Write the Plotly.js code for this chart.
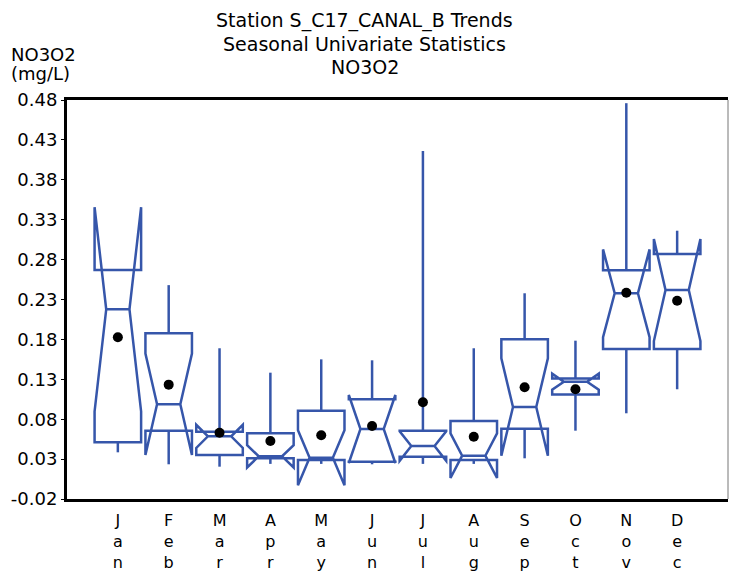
<!DOCTYPE html>
<html>
<head>
<meta charset="utf-8">
<script src="https://cdn.plot.ly/plotly-3.0.1.min.js"></script>
<style>html,body{margin:0;padding:0;background:#fff;}#chart{width:729px;height:573px;}</style>
</head>
<body>
<div id="chart"></div>
<script>
// Monthly notched-box statistics, NO3O2 (mg/L)
var months = ['Jan','Feb','Mar','Apr','May','Jun','Jul','Aug','Sep','Oct','Nov','Dec'];
var q1Vals = [0.051, 0.0656, 0.035, 0.031, 0.029, 0.0268, 0.033, 0.029, 0.0681, 0.111, 0.168, 0.168];
var medianVals = [0.2177, 0.0987, 0.0585, 0.0335, 0.0318, 0.0677, 0.0464, 0.0343, 0.0953, 0.127, 0.2378, 0.2419];
var q3Vals = [0.267, 0.1876, 0.0644, 0.0623, 0.0907, 0.1049, 0.0656, 0.0777, 0.1801, 0.131, 0.2666, 0.287];
var minVals = [0.0385, 0.0235, 0.0205, 0.024, 0.024, 0.0235, 0.024, 0.024, 0.031, 0.0656, 0.0874, 0.1175];
var maxVals = [0.267, 0.248, 0.1689, 0.1383, 0.155, 0.1538, 0.4161, 0.1689, 0.2378, 0.1784, 0.476, 0.3162];
var notchVals = [0.128, 0.0635, 0.0145, 0.014, 0.0345, 0.0426, 0.0185, 0.028, 0.061, 0.010, 0.055, 0.064];
var meanVals = [0.1826, 0.1233, 0.063, 0.0527, 0.0598, 0.0715, 0.1012, 0.0581, 0.12, 0.1176, 0.2385, 0.2285];
var yTicks = [-0.02, 0.03, 0.08, 0.13, 0.18, 0.23, 0.28, 0.33, 0.38, 0.43, 0.48];
var titleLines = ['Station S_C17_CANAL_B Trends', 'Seasonal Univariate Statistics', 'NO3O2'];
var yTitleLines = ['NO3O2', '(mg/L)'];

var FONT = 'DejaVu Sans, Liberation Sans, Arial, sans-serif';
var BLUE = '#3656aa';

var boxTrace = {
  type: 'box',
  x: months,
  q1: q1Vals,
  median: medianVals,
  q3: q3Vals,
  lowerfence: minVals,
  upperfence: maxVals,
  notchspan: notchVals,
  notched: true,
  notchwidth: 0.25,
  boxpoints: false,
  showwhiskers: false,
  whiskerwidth: 0,
  width: 0.915,
  line: {color: BLUE, width: 2.5},
  fillcolor: 'rgba(0,0,0,0)',
  hoverinfo: 'skip',
  showlegend: false
};

// whiskers: q1 -> min and q3 -> max, drawn as line segments
var wx = [], wy = [];
months.forEach(function(m, i) {
  wx.push(m, m, null, m, m, null);
  wy.push(q1Vals[i], minVals[i], null, q3Vals[i], maxVals[i], null);
});
var whiskerTrace = {
  type: 'scatter',
  mode: 'lines',
  x: wx,
  y: wy,
  connectgaps: false,
  line: {color: BLUE, width: 2.5},
  hoverinfo: 'skip',
  showlegend: false
};

var meanTrace = {
  type: 'scatter',
  mode: 'markers',
  x: months,
  y: meanVals,
  marker: {color: '#000', size: 10},
  hoverinfo: 'skip',
  showlegend: false
};

var titleY = [1.2005, 1.1404, 1.0827];
var annotations = titleLines.map(function(t, i) {
  return {text: t, xref: 'paper', yref: 'paper', x: (364.5 - 67) / 661, y: titleY[i],
          xanchor: 'center', yanchor: 'middle', showarrow: false,
          font: {family: FONT, size: 19, color: '#000'}};
});
var yTitleY = [1.113, 1.067];
yTitleLines.forEach(function(t, i) {
  annotations.push({text: t, xref: 'paper', yref: 'paper', x: -0.088, y: yTitleY[i],
                    xanchor: 'left', yanchor: 'middle', showarrow: false,
                    font: {family: FONT, size: 18, color: '#000'}});
});

var layout = {
  width: 729,
  height: 573,
  margin: {l: 67, r: 1, t: 100, b: 74},
  paper_bgcolor: '#fff',
  plot_bgcolor: '#fff',
  font: {family: FONT, color: '#000', size: 16},
  xaxis: {
    type: 'category',
    range: [-1, 12],
    tickvals: months,
    ticktext: months.map(function(m){ return m.split('').join('<br>'); }),
    tickfont: {family: FONT, size: 16, color: '#000'},
    ticklabelstandoff: 5,
    showgrid: false,
    zeroline: false,
    showline: true,
    linecolor: '#000',
    linewidth: 3,
    mirror: true,
    ticks: ''
  },
  yaxis: {
    range: [-0.02, 0.48],
    tickvals: yTicks,
    ticktext: yTicks.map(function(v){ return v.toFixed(2); }),
    tickfont: {family: FONT, size: 18, color: '#000'},
    showgrid: false,
    zeroline: false,
    showline: true,
    linecolor: '#000',
    linewidth: 3,
    mirror: false,
    ticks: 'outside',
    ticklen: 3,
    tickwidth: 1,
    tickcolor: '#000'
  },
  shapes: [{
    type: 'line', xref: 'paper', yref: 'paper',
    x0: 1, x1: 1, y0: 0, y1: 1,
    line: {color: '#777', width: 1}
  }],
  annotations: annotations
};

Plotly.newPlot('chart', [boxTrace, whiskerTrace, meanTrace], layout, {staticPlot: true, displayModeBar: false});
</script>
</body>
</html>
